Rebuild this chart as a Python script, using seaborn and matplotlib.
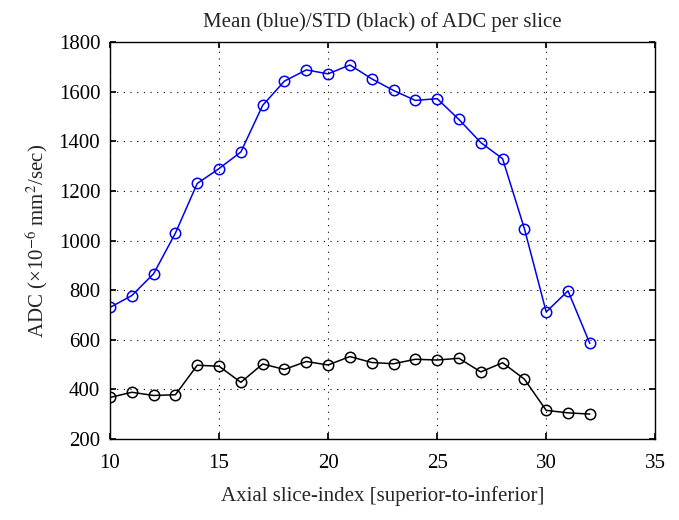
import matplotlib
matplotlib.use("Agg")
import matplotlib.pyplot as plt
import seaborn as sns
import pandas as pd

slices = list(range(10, 33))
mean_adc = [730, 778, 866, 1030, 1230, 1290, 1357, 1545, 1643, 1688, 1672, 1708,
            1652, 1605, 1565, 1572, 1488, 1395, 1330, 1048, 712, 797, 585]
std_adc = [367, 388, 375, 378, 497, 493, 428, 502, 480, 512, 498, 532,
           508, 503, 521, 518, 525, 470, 507, 441, 315, 305, 300]

sns.set_theme(style="ticks")
plt.rcParams['font.family'] = ['Liberation Serif', 'DejaVu Serif']
plt.rcParams['mathtext.fontset'] = 'stix'

df = pd.DataFrame({"slice": slices, "mean": mean_adc, "std": std_adc})

fig = plt.figure(figsize=(6.79, 5.2), dpi=100)
ax = fig.add_axes([0.162, 0.156, 0.803, 0.763])

sns.lineplot(data=df, x="slice", y="mean", ax=ax, color="#0000ee", marker="o",
             markersize=7.5, markerfacecolor="none", markeredgecolor="#0000ee",
             markeredgewidth=1.1, linewidth=1.1)
sns.lineplot(data=df, x="slice", y="std", ax=ax, color="black", marker="o",
             markersize=7.5, markerfacecolor="none", markeredgecolor="black",
             markeredgewidth=1.1, linewidth=1.1)

ax.set_xlim(10, 35)
ax.set_ylim(200, 1800)
ax.set_xticks([10, 15, 20, 25, 30, 35])
ax.set_yticks(range(200, 1801, 200))
ax.grid(True, linestyle=(0, (1, 5)), color="black", linewidth=0.8)
for s in ax.spines.values():
    s.set_visible(True)
    s.set_color("black")
    s.set_linewidth(1.0)
ax.tick_params(direction="in", top=True, right=True, labelsize=15, length=4, colors="black")
ax.tick_params(axis="x", pad=11)
ax.tick_params(axis="y", pad=7)
ax.set_title("Mean (blue)/STD (black) of ADC per slice", fontsize=15, pad=11)
ax.set_xlabel("Axial slice-index [superior-to-inferior]", fontsize=15, labelpad=9)
ax.set_ylabel("ADC (×10$^{-6}$ mm$^2$/sec)", fontsize=15, labelpad=6)

fig.savefig("out.png", dpi=100)
